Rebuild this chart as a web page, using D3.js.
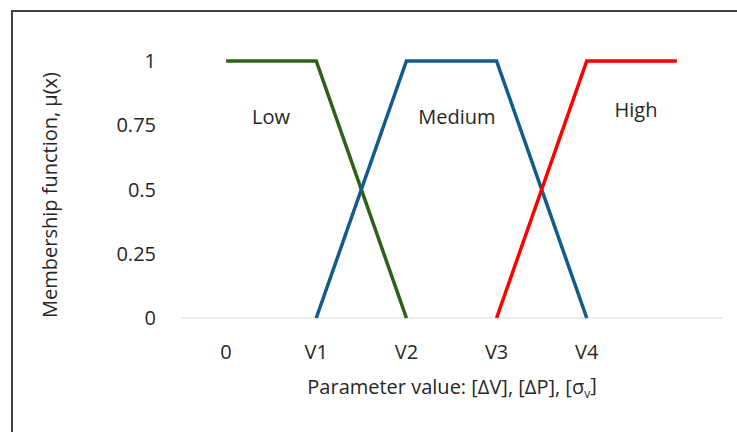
<!DOCTYPE html>
<html>
<head>
<meta charset="utf-8">
<script src="https://cdn.jsdelivr.net/npm/d3@7"></script>
<style>
  body { margin: 0; background: #fff; }
  svg text { font-family: "Open Sans", "Liberation Sans", sans-serif; fill: #262626; }
</style>
</head>
<body>
<svg id="chart" width="737" height="432"></svg>
<script>
// categories on the x axis (last one is blank)
const categories = ["0", "V1", "V2", "V3", "V4", ""];
const yTicks = [0, 0.25, 0.5, 0.75, 1];

// membership values per category (null = no point)
const lowValues = [1, 1, 0, null, null, null];
const mediumValues = [null, 0, 1, 1, 0, null];
const highValues = [null, null, null, 0, 1, 1];

const seriesNames = ["Low", "Medium", "High"];
const seriesColors = ["#2b6119", "#135b8c", "#ff0000"];

var svg = d3.select("#chart"),
    margin = { top: 61, right: 15, bottom: 114, left: 181 },
    width = +svg.attr("width") - margin.left - margin.right,
    height = +svg.attr("height") - margin.top - margin.bottom;

var fs = 20;

// chart frame
svg.append("rect")
    .attr("x", 12).attr("y", 11)
    .attr("width", 760).attr("height", 460)
    .attr("fill", "none")
    .attr("stroke", "#404040")
    .attr("stroke-width", 2);

var g = svg.append("g").attr("transform", "translate(" + margin.left + "," + margin.top + ")");

var x = d3.scaleBand().domain(categories).range([0, width]);
var y = d3.scaleLinear().domain([0, 1]).range([height, 0]);

// baseline
g.append("line")
    .attr("x1", 0).attr("x2", width)
    .attr("y1", y(0)).attr("y2", y(0))
    .attr("stroke", "#d9d9d9")
    .attr("stroke-width", 1);

// y tick labels
g.append("g")
    .selectAll("text")
    .data(yTicks)
    .enter().append("text")
    .attr("x", -25)
    .attr("y", d => y(d))
    .attr("dy", "0.35em")
    .attr("text-anchor", "end")
    .attr("font-size", fs)
    .text(d => d);

// x tick labels
g.append("g")
    .selectAll("text")
    .data(categories)
    .enter().append("text")
    .attr("x", d => x(d) + x.bandwidth() / 2)
    .attr("y", height + 34)
    .attr("dy", "0.35em")
    .attr("text-anchor", "middle")
    .attr("font-size", fs)
    .text(d => d);

// lines
var line = d3.line()
    .defined(d => d.v !== null)
    .x(d => x(d.c) + x.bandwidth() / 2)
    .y(d => y(d.v));

[lowValues, mediumValues, highValues].forEach(function (vals, i) {
    g.append("path")
        .datum(vals.map((v, j) => ({ c: categories[j], v: v })))
        .attr("fill", "none")
        .attr("stroke", seriesColors[i])
        .attr("stroke-width", 3.5)
        .attr("d", line);
});

// series labels
var labelPos = [[90, 56], [276, 56], [455, 49]];
seriesNames.forEach(function (name, i) {
    g.append("text")
        .attr("x", labelPos[i][0])
        .attr("y", labelPos[i][1])
        .attr("dy", "0.35em")
        .attr("text-anchor", "middle")
        .attr("font-size", fs)
        .text(name);
});

// axis titles
var xt = svg.append("text")
    .attr("x", 452)
    .attr("y", 387)
    .attr("dy", "0.35em")
    .attr("text-anchor", "middle")
    .attr("font-size", fs)
    .text("Parameter value: [ΔV], [ΔP], [σ");
xt.append("tspan").attr("font-size", 12).attr("dy", "0.3em").text("v");
xt.append("tspan").attr("dy", "-0.3em").text("]");

svg.append("text")
    .attr("transform", "translate(50,195) rotate(-90)")
    .attr("dy", "0.35em")
    .attr("text-anchor", "middle")
    .attr("font-size", fs)
    .text("Membership function,  µ(x)");
</script>
</body>
</html>
